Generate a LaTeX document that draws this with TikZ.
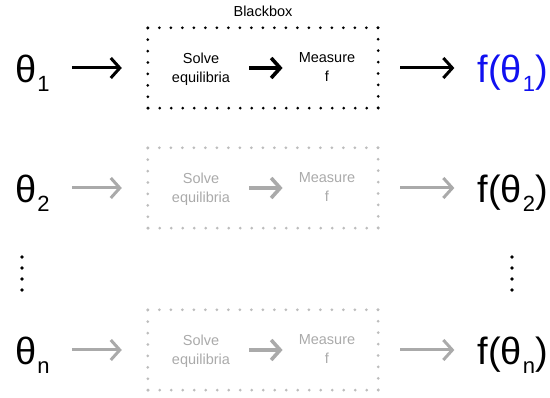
\documentclass[tikz,border=0pt]{standalone}
\usepackage{fontspec}
\setmainfont{Liberation Sans}
\usetikzlibrary{arrows.meta,calc}
\definecolor{lg}{HTML}{AAAAAA}
\definecolor{dg}{HTML}{BDBDBD}
\definecolor{fb}{HTML}{1010F0}
\newcommand{\thsub}[1]{θ\kern1pt\raisebox{-9pt}{\fontsize{22}{22}\selectfont #1}}
\begin{document}
\begin{tikzpicture}[x=1pt,y=-1pt,
  bigtxt/.style={font=\fontsize{38}{40}\selectfont, inner sep=0pt},
  smalltxt/.style={font=\fontsize{14.5}{19}\selectfont, align=center, inner sep=0pt},
  longarr/.style={line width=3pt, -{Straight Barb[length=9pt,width=20pt,line width=3pt]}},
  shortarr/.style={line width=4.3pt, -{Straight Barb[length=9pt,width=20pt,line width=3.6pt]}},
  boxnode/.style={minimum width=230pt, minimum height=80pt, inner sep=0pt},
  dotside/.style={line width=3pt, line cap=round, dash pattern=on 0pt off #1},
  vdot/.style={circle, fill=black, minimum size=3.6pt, inner sep=0pt}
]
\useasboundingbox (0,0) rectangle (550,398);

% Row nodes
\foreach \r/\y/\lab/\col/\fcol/\tcol/\dcol/\acol in {
  1/68/1/black/fb/black/black/black,
  2/188/2/black/black/lg/dg/lg,
  3/350/n/black/black/lg/dg/lg}{
  \node[bigtxt, anchor=base west, text=\col] (t\r) at (15,\y+15) {\thsub{\lab}};
  \node[bigtxt, anchor=base east, text=\fcol] (f\r) at (548,\y+15) {f(\thsub{\lab})};
  \node[boxnode] (b\r) at (263,\y) {};
  \node[smalltxt, text=\tcol] (s\r) at (201,\y+1) {Solve\\equilibria};
  \node[smalltxt, text=\tcol] (m\r) at (327,\y-1) {Measure\\f};
  \draw[dotside=11.5pt, \dcol] (b\r.north west) -- (b\r.north east);
  \draw[dotside=11.4286pt, \dcol] (b\r.north east) -- (b\r.south east);
  \draw[dotside=11.5pt, \dcol] (b\r.south east) -- (b\r.south west);
  \draw[dotside=11.4286pt, \dcol] (b\r.south west) -- (b\r.north west);
  \draw[longarr, \acol, shorten <=22pt, shorten >=26pt] (t\r.east |- b\r.west) -- (b\r.west);
  \draw[longarr, \acol, shorten <=22pt, shorten >=23pt] (b\r.east) -- (f\r.west |- b\r.east);
  \draw[shortarr, \acol, shorten <=19pt, shorten >=16pt] (s\r.east |- b\r.center) -- (m\r.west |- b\r.center);
}

\node[smalltxt] (bb) at (263,11) {Blackbox};

% vertical ellipsis dots
\foreach \i/\yy in {1/257,2/268,3/279,4/290}{
  \node[vdot] (l\i) at (22,\yy) {};
  \node[vdot] (r\i) at (512,\yy) {};
}
\end{tikzpicture}
\end{document}
